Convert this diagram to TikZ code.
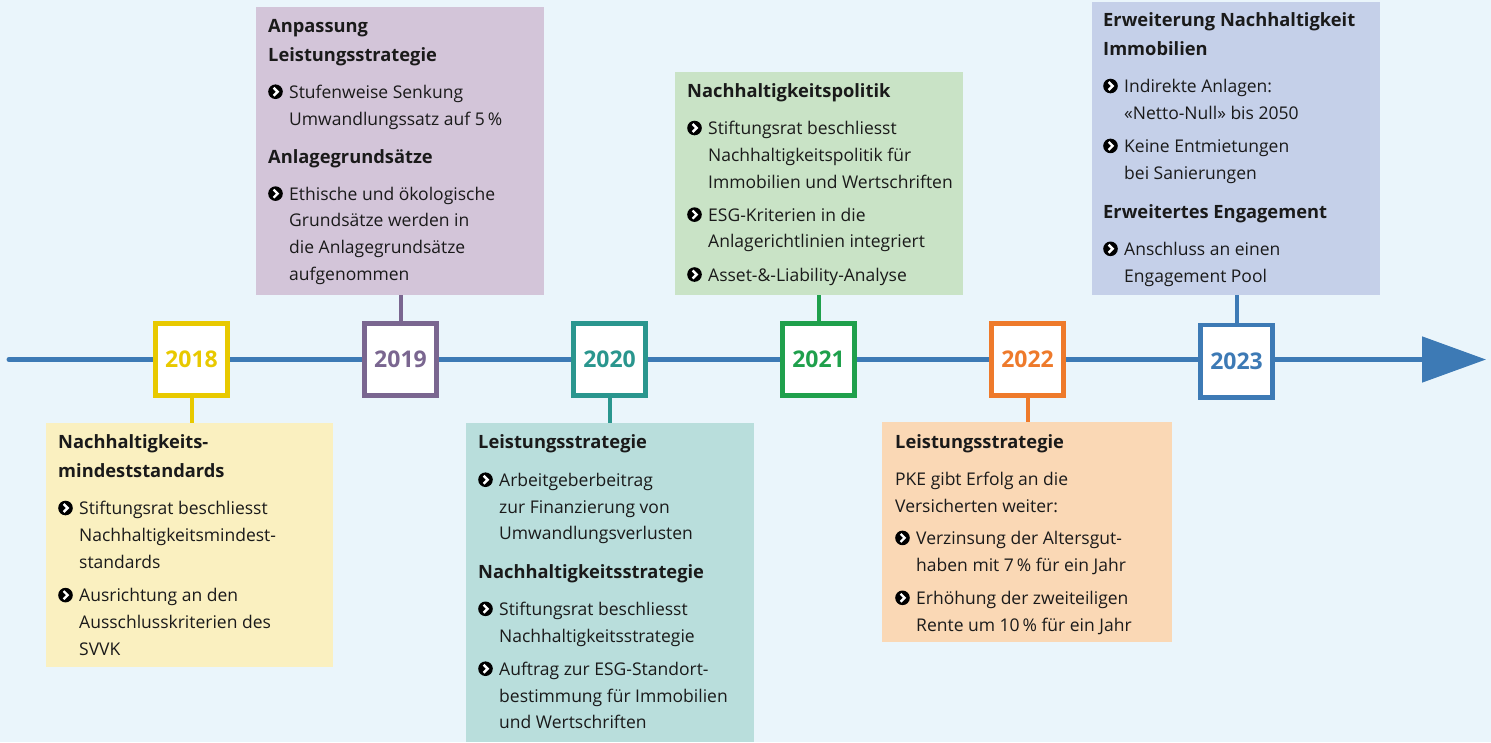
\documentclass[tikz,border=0pt]{standalone}
\usepackage{fontspec}
\setmainfont{Open Sans}
\usetikzlibrary{arrows.meta}
\definecolor{bgc}{HTML}{EAF5FB}
\definecolor{axisc}{HTML}{3D7AB5}
\definecolor{ink}{HTML}{1A1A1A}
\definecolor{c18}{HTML}{E8C900}
\definecolor{c19}{HTML}{7A6690}
\definecolor{c20}{HTML}{2A968E}
\definecolor{c21}{HTML}{1FA04C}
\definecolor{c22}{HTML}{EE7A2B}
\definecolor{c23}{HTML}{3D7AB5}
\definecolor{f18}{HTML}{FAF0C0}
\definecolor{f19}{HTML}{D3C5D9}
\definecolor{f20}{HTML}{B9DEDC}
\definecolor{f21}{HTML}{C9E3C6}
\definecolor{f22}{HTML}{FAD8B5}
\definecolor{f23}{HTML}{C5D0E9}
\newsavebox\bulbox
\newcommand\mybul{\makebox[21pt][l]{\usebox\bulbox}}
\newcommand\myind{\hspace*{21pt}}
\newcommand\hd[1]{{\fontsize{18.3pt}{26.7pt}\selectfont\bfseries #1}}
\begin{document}
\sbox\bulbox{\pgfpicture\pgfsetbaseline{0pt}%
\pgfsetfillcolor{black}%
\pgfpathcircle{\pgfpoint{7.3pt}{6.6pt}}{7.3pt}\pgfusepath{fill}%
\pgfsetstrokecolor{white}\pgfsetlinewidth{2.4pt}%
\pgfpathmoveto{\pgfpoint{5.4pt}{10.6pt}}\pgfpathlineto{\pgfpoint{9.4pt}{6.6pt}}\pgfpathlineto{\pgfpoint{5.4pt}{2.6pt}}\pgfusepath{stroke}%
\endpgfpicture}
\begin{tikzpicture}[x=1pt,y=-1pt,
  infobox/.style={anchor=north west, inner sep=0pt, outer sep=0pt},
  txt/.style={anchor=north west, inner sep=0pt, align=left, text=ink,
    font=\fontsize{17.5pt}{26.7pt}\selectfont},
  yr/.style={fill=white, line width=4.7pt, minimum size=72.3pt, inner sep=0pt,
    font=\fontsize{23pt}{23pt}\selectfont\bfseries},
  conn/.style={line width=4pt},
  axis/.style={draw=axisc, line width=5pt, line cap=round, -{Triangle[length=64pt,width=45pt]}}]
\fill[bgc] (0,0) rectangle (1491,742);
\useasboundingbox (0,0) rectangle (1491,742);

% info boxes
\node[infobox, fill=f18, minimum width=287pt, minimum height=244pt] (b18) at (46,423) {};
\node[infobox, fill=f19, minimum width=288pt, minimum height=288pt] (b19) at (256,7) {};
\node[infobox, fill=f20, minimum width=288pt, minimum height=319pt] (b20) at (466,423) {};
\node[infobox, fill=f21, minimum width=288pt, minimum height=223pt] (b21) at (675,72) {};
\node[infobox, fill=f22, minimum width=290pt, minimum height=220pt] (b22) at (882,422) {};
\node[infobox, fill=f23, minimum width=288pt, minimum height=293pt] (b23) at (1092,2) {};

% texts
\node[txt] (t18) at ([shift={(12,11.5)}]b18.north west) {\hd{Nachhaltigkeits-}\\[2.3pt]\hd{mindeststandards}\\[10.3pt]
\mybul Stiftungsrat beschliesst\\ \myind Nachhaltigkeitsmindest-\\ \myind standards\\[7pt]
\mybul Ausrichtung an den\\ \myind Ausschlusskriterien des\\ \myind SVVK};

\node[txt] (t19) at ([shift={(12,12)}]b19.north west) {\hd{Anpassung}\\[2.3pt]\hd{Leistungsstrategie}\\[10.3pt]
\mybul Stufenweise Senkung\\ \myind Umwandlungssatz auf 5\,\%\\[11.5pt]
\hd{Anlagegrundsätze}\\[10.3pt]
\mybul Ethische und ökologische\\ \myind Grundsätze werden in\\ \myind die Anlagegrundsätze\\ \myind aufgenommen};

\node[txt] (t20) at ([shift={(12,11.5)}]b20.north west) {\hd{Leistungsstrategie}\\[11pt]
\mybul Arbeitgeberbeitrag\\ \myind zur Finanzierung von\\ \myind Umwandlungsverlusten\\[12pt]
\hd{Nachhaltigkeitsstrategie}\\[10.3pt]
\mybul Stiftungsrat beschliesst\\ \myind Nachhaltigkeitsstrategie\\[6.5pt]
\mybul Auftrag zur ESG-Standort-\\ \myind bestimmung für Immobilien\\ \myind und Wertschriften};

\node[txt] (t21) at ([shift={(12,11.5)}]b21.north west) {\hd{Nachhaltigkeitspolitik}\\[10.3pt]
\mybul Stiftungsrat beschliesst\\ \myind Nachhaltigkeitspolitik für\\ \myind Immobilien und Wertschriften\\[6.5pt]
\mybul ESG-Kriterien in die\\ \myind Anlagerichtlinien integriert\\[6.5pt]
\mybul Asset-\&-Liability-Analyse};

\node[txt] (t22) at ([shift={(13,12.5)}]b22.north west) {\hd{Leistungsstrategie}\\[10.3pt]
PKE gibt Erfolg an die\\ Versicherten weiter:\\[5.5pt]
\mybul Verzinsung der Altersgut-\\ \myind haben mit 7\,\% für ein Jahr\\[6.5pt]
\mybul Erhöhung der zweiteiligen\\ \myind Rente um 10\,\% für ein Jahr};

\node[txt] (t23) at ([shift={(11,10.5)}]b23.north west) {\hd{Erweiterung Nachhaltigkeit}\\[2.3pt]\hd{Immobilien}\\[10.3pt]
\mybul Indirekte Anlagen:\\ \myind «Netto-Null» bis 2050\\[6.5pt]
\mybul Keine Entmietungen\\ \myind bei Sanierungen\\[12.5pt]
\hd{Erweitertes Engagement}\\[10.3pt]
\mybul Anschluss an einen\\ \myind Engagement Pool};

% axis
\coordinate (axstart) at (9,359.5);
\coordinate (axend) at (1486,359.5);
\draw[axis] (axstart) -- (axend);

% connectors
\coordinate (p18) at (191.5,359.5);
\coordinate (p19) at (400.5,359.5);
\coordinate (p20) at (609.5,359.5);
\coordinate (p21) at (818.5,359.5);
\coordinate (p22) at (1027.5,359.5);
\coordinate (p23) at (1236.5,361);
\draw[conn, draw=c18] (p18) -- (p18 |- b18.north);
\draw[conn, draw=c19] (p19) -- (p19 |- b19.south);
\draw[conn, draw=c20] (p20) -- (p20 |- b20.north);
\draw[conn, draw=c21] (p21) -- (p21 |- b21.south);
\draw[conn, draw=c22] (p22) -- (p22 |- b22.north);
\draw[conn, draw=c23] (p23) -- (p23 |- b23.south);

% year boxes
\node[yr, draw=c18, text=c18] (y18) at (p18) {2018};
\node[yr, draw=c19, text=c19] (y19) at (p19) {2019};
\node[yr, draw=c20, text=c20] (y20) at (p20) {2020};
\node[yr, draw=c21, text=c21] (y21) at (p21) {2021};
\node[yr, draw=c22, text=c22] (y22) at (p22) {2022};
\node[yr, draw=c23, text=c23] (y23) at (p23) {2023};
\end{tikzpicture}
\end{document}
